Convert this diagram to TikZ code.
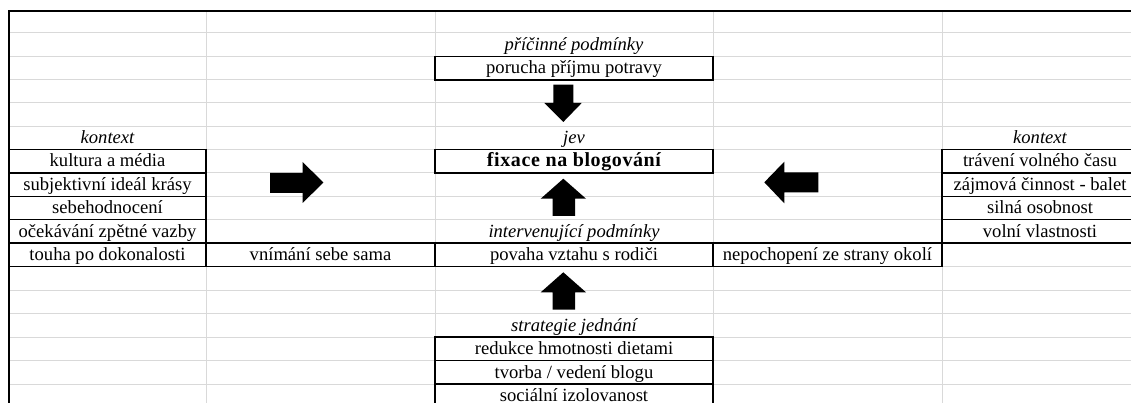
\documentclass[tikz,border=0pt]{standalone}
\usepackage{fontspec}
\setmainfont{Liberation Serif}
\definecolor{gridgray}{HTML}{D9D9D9}
\begin{document}
\begin{tikzpicture}[x=1pt,y=-1pt,
  cell/.style={inner sep=0pt, outer sep=0pt, minimum height=23.5pt, text height=17.5pt, text depth=6pt, font=\fontsize{18.6}{20}\selectfont, align=center},
  cellbox/.style={cell, draw=black, line width=1.4pt},
  lbl/.style={cell, font=\fontsize{18.6}{20}\selectfont\itshape},
  gridline/.style={draw=gridgray, line width=1pt},
  blockarrow/.style={fill=black, draw=none},
  colA/.style={minimum width=197pt},
  colB/.style={minimum width=229pt},
  colC/.style={minimum width=278pt},
  colD/.style={minimum width=229pt},
  colE/.style={minimum width=196pt}
]
\useasboundingbox (0,0) rectangle (1131,403);
\clip (0,0) rectangle (1131,403);
\fill[white] (0,0) rectangle (1131,403);
% spreadsheet grid
\foreach \r in {33,56.5,80,103,126.5,149.5,173,196.5,219.5,243,266.5,290.5,313.5,337,360.5,384}
  \draw[gridline] (9,\r) -- (1131,\r);
\foreach \c in {206,435,713,942}
  \draw[gridline] (\c,11) -- (\c,403);
% thick outer border
\draw[line width=2.2pt] (1131,11) -- (9,11) -- (9,403);

% top: causal conditions
\node[lbl, colC] (pricL) at (574,44.75) {příčinné podmínky};
\node[cellbox, colC] (porucha) at (574,68.25) {porucha příjmu potravy};

% phenomenon
\node[lbl, colC] (jevL) at (574,138) {jev};
\node[cellbox, colC, font=\fontsize{20}{22}\selectfont\bfseries] (fixace) at (574,161.25) {\addfontfeature{LetterSpace=3}fixace na blogování};

% left context
\node[lbl, colA] (kontextL) at (107.5,138) {kontext};
\node[cellbox, colA] (k1) at (107.5,161.25) {kultura a média};
\node[cellbox, colA] (k2) at (107.5,184.75) {subjektivní ideál krásy};
\node[cellbox, colA] (k3) at (107.5,208) {sebehodnocení};
\node[cellbox, colA] (k4) at (107.5,231.25) {očekávání zpětné vazby};
\node[cellbox, colA] (k5) at (107.5,254.75) {touha po dokonalosti};

% right context
\node[lbl, colE] (kontextR) at (1040,138) {kontext};
\node[cellbox, colE] (e1) at (1040,161.25) {trávení volného času};
\node[cellbox, colE] (e2) at (1040,184.75) {zájmová činnost - balet};
\node[cellbox, colE] (e3) at (1040,208) {silná osobnost};
\node[cellbox, colE] (e4) at (1040,231.25) {volní vlastnosti};

% intervening conditions
\node[lbl, colC] (intL) at (574,231.25) {intervenující podmínky};
\node[cellbox, colB] (vnimani) at (320.5,254.75) {vnímání sebe sama};
\node[cellbox, colC] (povaha) at (574,254.75) {povaha vztahu s rodiči};
\node[cellbox, colD] (nepochopeni) at (827.5,254.75) {nepochopení ze strany okolí};

% strategies
\node[lbl, colC] (strL) at (574,325.25) {strategie jednání};
\node[cellbox, colC] (s1) at (574,348.75) {redukce hmotnosti dietami};
\node[cellbox, colC] (s2) at (574,372.25) {tvorba / vedení blogu};
\node[cellbox, colC] (s3) at (574,395.75) {sociální izolovanost};

% block arrows
\fill[blockarrow] (553.3,84.7) -- (573.3,84.7) -- (573.3,103) -- (581.7,103) -- (563.3,122) -- (544.3,103) -- (553.3,103) -- cycle;
\fill[blockarrow] (270,173) -- (302.7,173) -- (302.7,162) -- (323.3,182.5) -- (302.7,203) -- (302.7,193) -- (270,193) -- cycle;
\fill[blockarrow] (818.3,172.3) -- (784.3,172.3) -- (784.3,161.7) -- (764.3,182.3) -- (784.3,203.3) -- (784.3,192.3) -- (818.3,192.3) -- cycle;
\fill[blockarrow] (552.7,216) -- (552.7,198.7) -- (540.7,198.7) -- (563.3,178.7) -- (586,198.7) -- (575,198.7) -- (575,216) -- cycle;
\fill[blockarrow] (552.7,309.6) -- (552.7,292.3) -- (540.7,292.3) -- (563.3,272.3) -- (586,292.3) -- (575,292.3) -- (575,309.6) -- cycle;
\end{tikzpicture}
\end{document}
